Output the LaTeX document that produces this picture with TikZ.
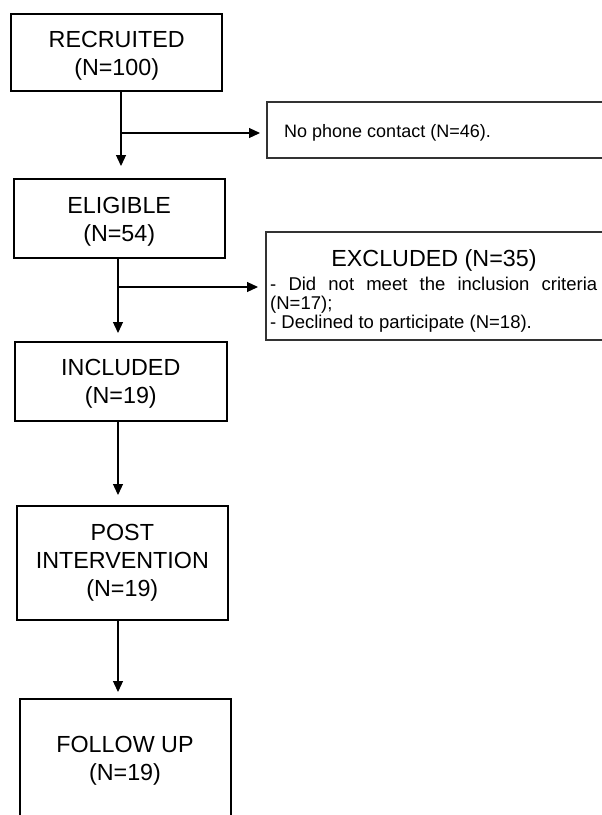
\documentclass[tikz,border=0pt]{standalone}
\usepackage{fontspec}
\setmainfont{Liberation Sans}
\usetikzlibrary{arrows.meta}
\begin{document}
\begin{tikzpicture}[x=1pt,y=-1pt,
  box/.style={draw=black, line width=1.8pt, inner sep=0pt, outer sep=0pt, anchor=north west},
  sidebox/.style={draw=black!80, line width=1.2pt, inner sep=0pt, outer sep=0pt, anchor=north west},
  lbl/.style={font=\fontsize{23.3}{28}\selectfont, align=center, inner sep=0pt},
  arr/.style={line width=1.2pt, -{Triangle[width=10pt,length=11pt]}},
  line/.style={line width=1.2pt}]
\useasboundingbox (0,0) rectangle (602,815);
\fill[white] (0,0) rectangle (602,815);
\clip (0,0) rectangle (602,815);

% main boxes
\node[box, minimum width=211pt, minimum height=77pt] (rec) at (11,14) {};
\node[box, minimum width=211pt, minimum height=79pt] (eli) at (14,179) {};
\node[box, minimum width=212pt, minimum height=79pt] (inc) at (15,342) {};
\node[box, minimum width=211pt, minimum height=114pt] (post) at (17,506) {};
\node[box, minimum width=211pt, minimum height=124pt] (fol) at (20,699) {};

% labels
\node[lbl] (rect) at (116.7,56) {RECRUITED\\(N=100)};
\node[lbl] (elit) at (119.2,221.7) {ELIGIBLE\\(N=54)};
\node[lbl] (inct) at (120.8,383.3) {INCLUDED\\(N=19)};
\node[lbl] (postt) at (122.3,562.5) {POST\\INTERVENTION\\(N=19)};
\node[lbl] (folt) at (125,761) {FOLLOW UP\\(N=19)};

% side boxes
\node[sidebox, minimum width=350pt, minimum height=56pt] (noph) at (267,102) {};
\node[anchor=base west, inner sep=0pt, font=\fontsize{18}{21}\selectfont] (nopht) at (284,137) {No phone contact (N=46).};

\node[sidebox, minimum width=350pt, minimum height=108pt] (excl) at (266,232) {};
\node[anchor=base, inner sep=0pt, font=\fontsize{23.3}{28}\selectfont] (exclt) at (434,266.7) {EXCLUDED (N=35)};
\node[anchor=north west, inner sep=0pt, text width=327pt, align=justify,
      font=\fontsize{18.5}{19}\selectfont] (exclb) at (270,276.8)
  {\hyphenpenalty=10000 - Did not meet the inclusion criteria (N=17);\\- Declined to participate (N=18).};

% connectors
\coordinate (t1) at (121,166);
\coordinate (b1) at (121,133);
\coordinate (t2) at (118,333);
\coordinate (b2) at (118,287);
\coordinate (t3) at (118,495);
\coordinate (t4) at (118,692);

\draw[arr] (rec.south -| t1) -- (t1);
\draw[arr, shorten >=7pt] (b1) -- (noph.west |- b1);
\draw[arr] (eli.south -| t2) -- (t2);
\draw[arr, shorten >=8pt] (b2) -- (excl.west |- b2);
\draw[arr] (inc.south -| t3) -- (t3);
\draw[arr] (post.south -| t4) -- (t4);
\end{tikzpicture}
\end{document}
